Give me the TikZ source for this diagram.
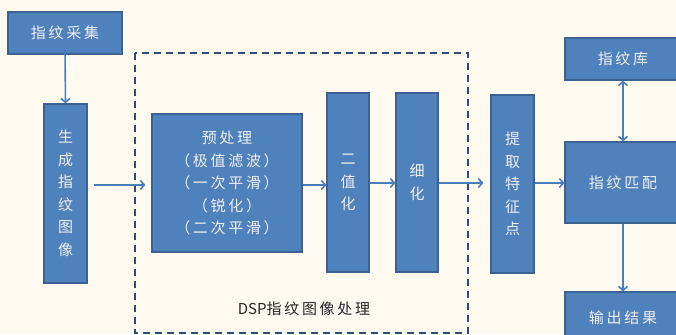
\documentclass[tikz,border=0pt]{standalone}
\usepackage{fontspec}
\setmainfont{Noto Sans CJK SC}[LetterSpace=18]
\newfontfamily\plainfont{Noto Sans CJK SC}
\usetikzlibrary{arrows.meta,calc}
\definecolor{bg}{HTML}{FEFAF0}
\definecolor{boxfill}{HTML}{4F81BD}
\definecolor{boxline}{HTML}{3A6391}
\definecolor{arrc}{HTML}{4A7EBB}
\definecolor{dashc}{HTML}{2B4D7A}
\definecolor{txt}{HTML}{F0F0F0}
\tikzset{
  blk/.style={draw=boxline, line width=1.2pt, fill=boxfill, text=txt, inner sep=0pt,
    font=\fontsize{15}{22.5}\selectfont, align=center},
  arr/.style={draw=arrc, line width=1.6pt, -{Straight Barb[length=4pt,width=9pt,line width=1.6pt]}},
  darr/.style={draw=arrc, line width=1.6pt, {Straight Barb[length=4pt,width=9pt,line width=1.6pt]}-{Straight Barb[length=4pt,width=9pt,line width=1.6pt]}},
  dashbox/.style={draw=dashc, line width=1.5pt, dash pattern=on 7pt off 5pt}
}
\begin{document}
\begin{tikzpicture}[x=1pt,y=-1pt]
\fill[bg] (0,0) rectangle (676,334);
\useasboundingbox (0,0) rectangle (676,334);
\clip (0,0) rectangle (676,334);
% dashed frame
\draw[dashbox] (135,53) rectangle (468,333);
\node[font=\fontsize{15}{16}\selectfont, text=black!85] (dsp) at (304,309) {{\plainfont DSP}指纹图像处理};
% boxes
\node[blk, minimum width=114pt, minimum height=42pt] (cap) at (65,33) {指纹采集};
\node[blk, minimum width=43pt, minimum height=179pt] (gen) at (65.5,193.5) {生\\成\\指\\纹\\图\\像};
\node[blk, minimum width=150pt, minimum height=138pt] (pre) at (227,183) {预处理\\（极值滤波）\\（一次平滑）\\（锐化）\\（二次平滑）};
\node[blk, minimum width=42pt, minimum height=179pt] (bin) at (348,182.5) {二\\值\\化};
\node[blk, minimum width=42pt, minimum height=179pt] (thin) at (417,182.5) {细\\化};
\node[blk, minimum width=43pt, minimum height=178pt] (ext) at (512.5,184) {提\\取\\特\\征\\点};
\node[blk, minimum width=116pt, minimum height=81pt] (match) at (623,182.5) {指纹匹配};
\node[blk, minimum width=116pt, minimum height=42pt] (lib) at (623,59) {指纹库};
\node[blk, minimum width=116pt, minimum height=52pt] (out) at (623,318) {输出结果};
% connectors
\draw[arr] ([yshift=6pt]cap.south) -- (gen.north);
\draw[arr] ([xshift=6pt]gen.east |- 0,185) -- ([xshift=-6pt]pre.west |- 0,185);
\draw[arr] (pre.east |- 0,185) -- (bin.west |- 0,185);
\draw[arr] (bin.east |- 0,183) -- (thin.west |- 0,183);
\draw[arr] (thin.east |- 0,183) -- ([xshift=-7pt]ext.west |- 0,183);
\draw[arr] (ext.east |- 0,183) -- (match.west |- 0,183);
\draw[darr] (lib.south) -- (match.north);
\draw[arr] (match.south) -- (out.north);
\end{tikzpicture}
\end{document}
